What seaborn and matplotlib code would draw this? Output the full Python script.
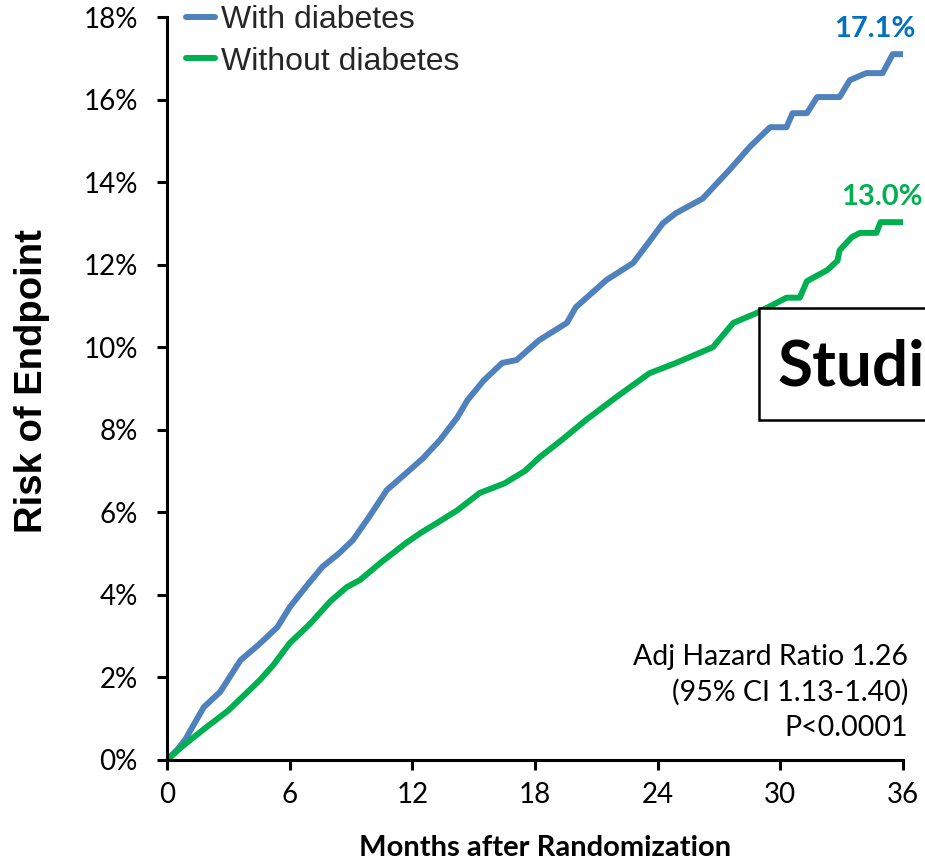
import matplotlib
matplotlib.use("Agg")
import matplotlib.pyplot as plt
import numpy as np
import pandas as pd
import seaborn as sns
from matplotlib.patches import Rectangle
from matplotlib.lines import Line2D

# ---- data ----
series_labels = ["With diabetes", "Without diabetes"]

months_with = [0, 0.5, 0.9, 1.3, 1.8, 2.6, 3.6, 4.5, 5.4, 6.0, 6.8, 7.6, 8.4, 9.1,
               9.9, 10.75, 11.7, 12.5, 13.35, 14.2, 14.7, 15.5, 16.4, 17.1, 18.2,
               19.56, 20.0, 21.5, 22.8, 23.5, 24.25, 24.9, 26.2, 27.5, 28.5, 28.85,
               29.5, 30.3, 30.6, 31.3, 31.8, 32.9, 33.4, 34.2, 35.0, 35.5, 36.0]
risk_with = [0, 0.25, 0.5, 0.85, 1.28, 1.65, 2.42, 2.8, 3.22, 3.7, 4.2, 4.68, 5.0, 5.33,
             5.9, 6.54, 6.95, 7.3, 7.75, 8.3, 8.72, 9.2, 9.62, 9.69, 10.17,
             10.59, 10.97, 11.63, 12.04, 12.5, 13.0, 13.25, 13.6, 14.29, 14.85, 15.02,
             15.33, 15.33, 15.67, 15.67, 16.06, 16.06, 16.47, 16.64, 16.64, 17.1, 17.1]

months_without = [0, 0.8, 1.76, 3.0, 4.55, 5.2, 6.0, 7.0, 8.0, 8.8, 9.44, 10.5, 11.7,
                  12.4, 13.2, 14.2, 15.3, 16.5, 17.5, 18.24, 19.3, 20.5, 22.0, 23.6,
                  24.9, 26.7, 27.7, 28.85, 29.8, 30.3, 30.95, 31.3, 32.3, 32.8, 32.9,
                  33.5, 33.9, 34.7, 34.9, 36.0]
risk_without = [0, 0.35, 0.73, 1.2, 1.94, 2.3, 2.83, 3.3, 3.85, 4.19, 4.36, 4.8, 5.26,
                5.5, 5.74, 6.05, 6.47, 6.7, 7.0, 7.34, 7.75, 8.24, 8.8, 9.37,
                9.62, 10.0, 10.59, 10.83, 11.07, 11.2, 11.2, 11.6, 11.87, 12.1, 12.35,
                12.67, 12.77, 12.77, 13.03, 13.03]

x_ticks = [0, 6, 12, 18, 24, 30, 36]
y_ticks = [0, 2, 4, 6, 8, 10, 12, 14, 16, 18]
end_labels = ["17.1%", "13.0%"]
stats_lines = ["Adj Hazard Ratio 1.26", "(95% CI 1.13-1.40)", "P<0.0001"]
box_text = "Studi"

line_colors = {"With diabetes": "#4F81BD", "Without diabetes": "#00B050"}
label_colors = ["#0070C0", "#00B050"]

# ---- build frame ----
df = pd.concat([
    pd.DataFrame({"month": months_with, "risk": risk_with, "group": series_labels[0]}),
    pd.DataFrame({"month": months_without, "risk": risk_without, "group": series_labels[1]}),
], ignore_index=True)

sns.set_theme(style="white")
plt.rcParams["font.family"] = ["Lato", "DejaVu Sans"]

W, H = 925, 861
fig = plt.figure(figsize=(W / 100, H / 100), dpi=100)
ax = fig.add_axes([167 / W, 1 - 760 / H, 736 / W, 743 / H])

sns.lineplot(data=df, x="month", y="risk", hue="group", palette=line_colors,
             estimator=None, sort=False, linewidth=4.3, legend=False, ax=ax)

ax.set_xlim(0, 36)
ax.set_ylim(0, 18)
ax.set_xticks(x_ticks)
ax.set_xticklabels([str(v) for v in x_ticks])
ax.set_yticks(y_ticks)
ax.set_yticklabels([f"{v}%" for v in y_ticks])
ax.tick_params(axis="both", which="major", bottom=True, left=True, direction="out",
               length=7, width=2.2, color="black", labelsize=20, labelcolor="black")
ax.tick_params(axis="y", pad=14)
ax.tick_params(axis="x", pad=9)

for s in ["top", "right"]:
    ax.spines[s].set_visible(False)
for s in ["left", "bottom"]:
    ax.spines[s].set_color("black")
    ax.spines[s].set_linewidth(2.2)

ax.set_xlabel("Months after Randomization", fontsize=21, fontweight="bold",
              color="black", labelpad=19)
ax.xaxis.label.set_x(0.5136)
ax.set_ylabel("Risk of Endpoint", fontsize=27.5, fontweight="bold", color="black",
              family=["Liberation Sans", "DejaVu Sans"], labelpad=24)
ax.yaxis.label.set_y(0.510)

# legend
handles = [Line2D([0], [0], color=line_colors[l], lw=4.3) for l in series_labels]
fig.legend(handles, series_labels, loc="upper left", bbox_to_anchor=(186 / W, 0.994),
           frameon=False, borderpad=0, borderaxespad=0, handlelength=0.9,
           handletextpad=0.2, labelspacing=0.36,
           prop={"family": ["Liberation Sans", "DejaVu Sans"], "size": 23})

# end labels
ax.text(36.6, 17.72, end_labels[0], ha="right", va="center", fontsize=21,
        fontweight="bold", color=label_colors[0])
ax.text(36.94, 13.65, end_labels[1], ha="right", va="center", fontsize=21,
        fontweight="bold", color=label_colors[1])

# stats text
for txt, yv in zip(stats_lines, [2.49, 1.65, 0.77]):
    ax.text(36.24, yv, txt, ha="right", va="center", fontsize=20.5, color="black")

# clipped box
rect = Rectangle((759 / W, 1 - 420 / H), 200 / W, 112 / H, transform=fig.transFigure,
                 facecolor="white", edgecolor="black", linewidth=1.8, zorder=10)
fig.patches.append(rect)
fig.text(778 / W, 1 - 367 / H, box_text, ha="left", va="center", fontsize=46,
         fontweight="bold", color="black", zorder=11)

fig.savefig("out.png", dpi=100)
